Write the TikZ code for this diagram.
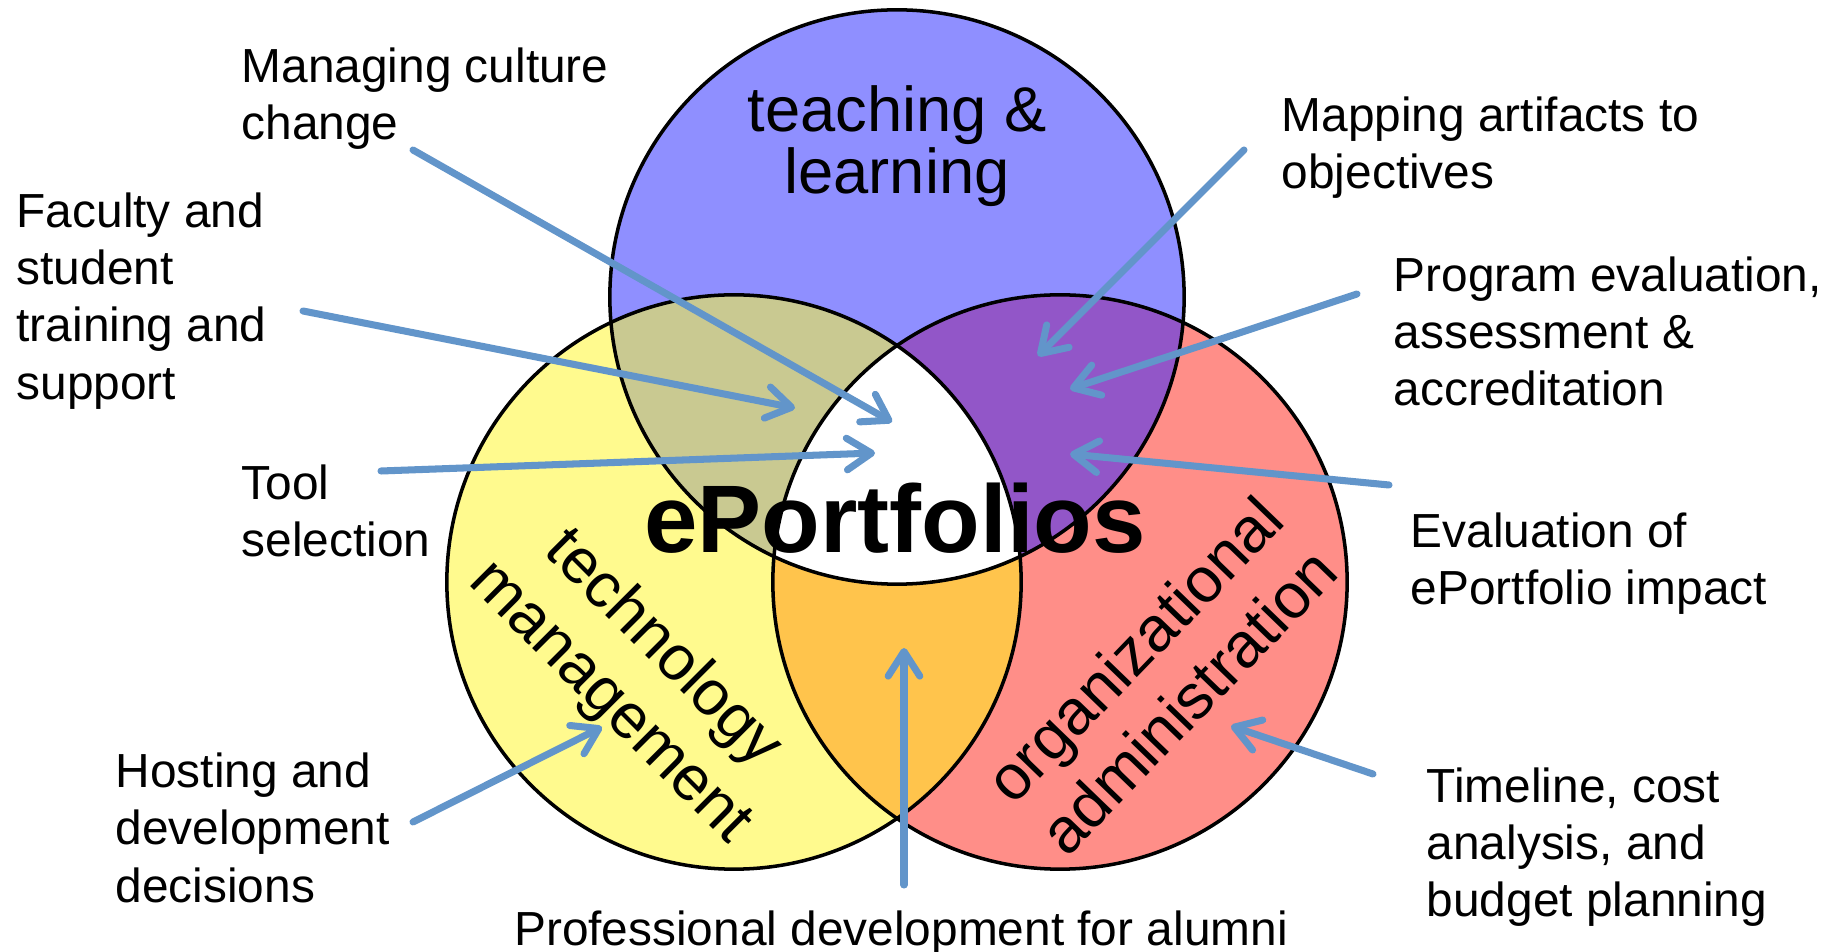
\documentclass[tikz,border=0pt]{standalone}
\usepackage{fontspec}
\setmainfont{Liberation Sans}
\usetikzlibrary{arrows.meta}
\definecolor{tlblue}{RGB}{143,143,255}
\definecolor{tmyellow}{RGB}{255,250,142}
\definecolor{oared}{RGB}{255,142,136}
\definecolor{tlxtm}{RGB}{201,201,145}
\definecolor{tlxoa}{RGB}{146,86,200}
\definecolor{tmxoa}{RGB}{255,196,76}
\definecolor{arrowblue}{RGB}{98,149,202}
\tikzset{
    lbl/.style={align=left, inner sep=0pt, font=\fontsize{13.6pt}{16.3pt}\selectfont},
    area lbl/.style={align=center, inner sep=0pt, font=\fontsize{18pt}{17.6pt}\selectfont},
    side lbl/.style={area lbl, font=\fontsize{18pt}{21.3pt}\selectfont},
    hub lbl/.style={inner sep=0pt, font=\fontsize{27.3pt}{28pt}\selectfont\bfseries},
    pointer/.style={draw=arrowblue, line width=2pt, line cap=round,
        -{Straight Barb[length=7pt,width=9pt,round]}},
    rim/.style={draw=black, line width=1pt}
}

\begin{document}
\begin{tikzpicture}[x=0.01cm, y=-0.01cm]
	\useasboundingbox[fill=white] (0,0) rectangle (1841,952);
	\def\rad{2.87cm}
	\coordinate (tl) at (897,297);
	\coordinate (tm) at (734,582);
	\coordinate (oa) at (1060,582);
	% circles and overlaps
	\fill[tlblue] (tl) circle[radius=\rad];
	\fill[tmyellow] (tm) circle[radius=\rad];
	\fill[oared] (oa) circle[radius=\rad];
	\begin{scope}
		\clip (tm) circle[radius=\rad];
		\fill[tmxoa] (oa) circle[radius=\rad];
	\end{scope}
	\begin{scope}
		\clip (tl) circle[radius=\rad];
		\fill[tlxtm] (tm) circle[radius=\rad];
		\fill[tlxoa] (oa) circle[radius=\rad];
		\clip (tm) circle[radius=\rad];
		\fill[white] (oa) circle[radius=\rad];
	\end{scope}
	\draw[rim] (tl) circle[radius=\rad];
	\draw[rim] (tm) circle[radius=\rad];
	\draw[rim] (oa) circle[radius=\rad];
	% circle texts
	\node[area lbl, anchor=north] (teach) at (897,85) {teaching \&\\learning};
	\node[side lbl, rotate=-45] (tech) at (636,676) {technology\\management};
	\node[side lbl, rotate=46] (admin) at (1161,675) {organizational\\administration};
	\node[hub lbl, anchor=base] (hub) at (895,553) {ePortfolios};
	% labels
	\node[lbl, anchor=north west] (culture) at (241,47) {Managing culture\\change};
	\node[lbl, anchor=north west] (training) at (16,192) {Faculty and\\student\\training and\\support};
	\node[lbl, anchor=north west] (tool) at (241,464) {Tool\\selection};
	\node[lbl, anchor=north west] (mapping) at (1281,96) {Mapping artifacts to\\objectives};
	\node[lbl, anchor=north west] (program) at (1393,256) {Program evaluation,\\assessment \&\\accreditation};
	\node[lbl, anchor=north west] (impact) at (1410,512) {Evaluation of\\ePortfolio impact};
	\node[lbl, anchor=north west] (hosting) at (115,752) {Hosting and\\development\\decisions};
	\node[lbl, anchor=north] (alumni) at (901,910) {Professional development for alumni};
	\node[lbl, anchor=north west] (budget) at (1426,767) {Timeline, cost\\analysis, and\\budget planning};
	% arrow ends
	\coordinate (culture-t) at (413,150);   \coordinate (culture-h) at (892,422);
	\coordinate (training-t) at (303,311);  \coordinate (training-h) at (795,408);
	\coordinate (tool-t) at (381,471);      \coordinate (tool-h) at (875,453);
	\coordinate (mapping-t) at (1244,150);  \coordinate (mapping-h) at (1038,356);
	\coordinate (program-t) at (1357,294);  \coordinate (program-h) at (1070,389);
	\coordinate (impact-t) at (1389,485);   \coordinate (impact-h) at (1070,454);
	\coordinate (hosting-t) at (413,822);   \coordinate (hosting-h) at (602,727);
	\coordinate (alumni-t) at (904,885);    \coordinate (alumni-h) at (904,648);
	\coordinate (budget-t) at (1373,774);   \coordinate (budget-h) at (1231,726);
	\foreach \k in {culture,training,tool,mapping,program,impact,hosting,alumni,budget}
		\draw[pointer] (\k-t) -- (\k-h);
\end{tikzpicture}
\end{document}
